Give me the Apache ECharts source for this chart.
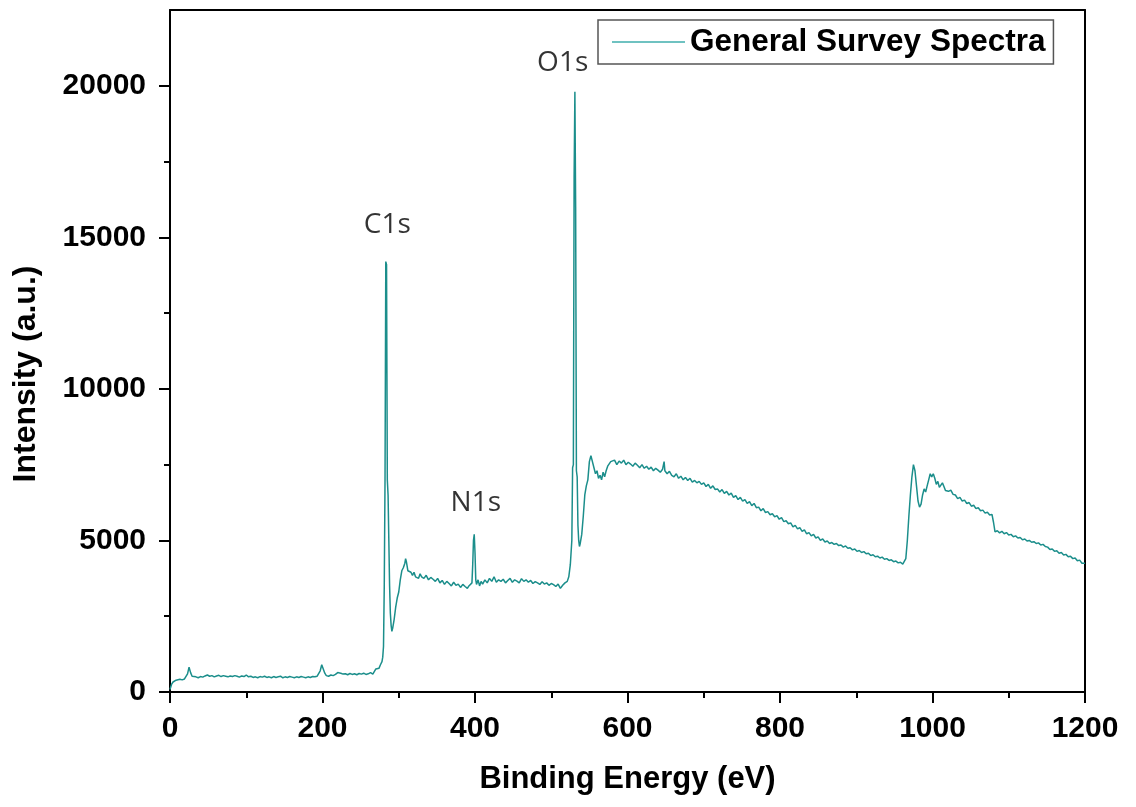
<!DOCTYPE html>
<html>
<head>
<meta charset="utf-8">
<script src="https://cdn.jsdelivr.net/npm/echarts@6/dist/echarts.min.js"></script>
<style>
html,body{margin:0;padding:0;background:#fff;}
#chart{width:1136px;height:807px;}
</style>
</head>
<body>
<div id="chart"></div>
<script>
// ---- data ----
const seriesName = 'General Survey Spectra';
const xAxisTitle = 'Binding Energy (eV)';
const yAxisTitle = 'Intensity (a.u.)';
const xTicks = [0, 200, 400, 600, 800, 1000, 1200];
const yTicks = [0, 5000, 10000, 15000, 20000];
const yMinorTicks = [2500, 7500, 12500, 17500];
const peakNames = ['C1s', 'N1s', 'O1s'];
const peakLabelAt = [[285, 15400], [401, 6250], [515, 20750]];
// [binding energy (eV), intensity (a.u.)]
const spectrum = [
[0,80],[2,250],[4,330],[6,360],[8,390],[10,400],[13,420],[16,400],[19,430],[21,470],[23,600],[25,820],[27,640],[29,520],[31,480],[34,500],[37,470],[40,510],[43,490],[46,530],[49,560],[52,520],[55,540],[58,500],[61,530],[64,550],[67,510],[70,540],[73,520],[76,500],[79,530],[82,510],[85,540],[88,520],[91,490],[94,530],[97,510],[100,560],[103,500],[106,520],[109,480],[112,500],[115,470],[118,510],[121,490],[124,520],[127,480],[130,500],[133,470],[136,510],[139,480],[142,500],[145,520],[148,470],[151,500],[154,480],[157,510],[160,490],[163,470],[166,500],[169,480],[172,510],[175,490],[178,470],[181,500],[184,480],[187,510],[190,500],[193,520],[195,560],[197,700],[199,900],[200,960],[201,850],[203,620],[205,540],[208,520],[211,560],[214,540],[217,580],[220,640],[222,680],[224,620],[227,590],[230,600],[233,570],[236,610],[239,580],[242,600],[245,570],[248,610],[251,590],[254,620],[257,580],[260,600],[263,640],[266,590],[268,620],[270,760],[272,720],[274,780],[276,900],[278,1000],[279,1150],[280,1500],[281,3500],[282,7000],[283,14200],[284,14100],[284.5,10500],[285,7000],[286,6500],[287,5000],[288,3500],[289,2600],[290,2200],[291,2000],[292,2100],[294,2400],[296,2800],[298,3100],[300,3300],[302,3700],[304,4000],[306,4100],[308,4250],[309,4400],[310,4300],[312,4000],[314,4050],[316,3950],[318,3850],[320,3950],[322,3800],[324,3850],[326,3750],[328,3900],[330,3800],[333,3750],[336,3850],[339,3700],[342,3780],[345,3720],[348,3650],[351,3750],[354,3600],[357,3680],[360,3550],[363,3650],[366,3580],[369,3500],[372,3620],[375,3520],[378,3560],[381,3450],[384,3550],[387,3480],[390,3420],[392,3500],[394,3450],[396,3600],[397,4200],[398,5000],[399,5200],[400,4600],[401,3700],[402,3550],[404,3700],[406,3500],[408,3650],[410,3560],[413,3700],[416,3600],[419,3750],[422,3650],[425,3800],[428,3620],[431,3700],[434,3650],[437,3720],[440,3600],[443,3680],[446,3750],[449,3620],[452,3700],[455,3660],[458,3600],[461,3740],[464,3650],[467,3700],[470,3620],[473,3680],[476,3580],[479,3640],[482,3600],[485,3550],[488,3640],[491,3560],[494,3600],[497,3520],[500,3580],[503,3540],[506,3480],[509,3560],[512,3420],[515,3520],[518,3600],[521,3650],[523,3800],[525,4200],[527,5000],[528,7400],[529,7500],[530,17000],[531,19800],[532,16000],[533,7300],[534,7100],[535,5500],[536,5000],[537,4800],[538,4900],[540,5200],[542,5800],[544,6500],[546,6800],[548,7000],[550,7600],[552,7800],[554,7750],[556,7400],[558,7200],[560,7300],[562,7050],[564,7150],[566,7000],[568,7250],[570,7100],[572,7300],[574,7450],[576,7400],[578,7600],[580,7550],[583,7650],[586,7500],[589,7620],[592,7550],[595,7650],[598,7500],[601,7580],[604,7520],[607,7450],[610,7550],[613,7480],[616,7400],[619,7500],[622,7380],[625,7450],[628,7350],[631,7420],[634,7300],[637,7380],[640,7320],[643,7250],[646,7350],[648,7600],[649,7300],[652,7200],[655,7280],[658,7150],[661,7100],[664,7200],[667,7050],[670,7120],[673,7000],[676,7080],[679,6980],[682,7050],[685,6920],[688,6980],[691,6900],[694,6950],[697,6850],[700,6900],[703,6780],[706,6850],[709,6720],[712,6800],[715,6680],[718,6700],[721,6600],[724,6680],[727,6550],[730,6620],[733,6500],[736,6560],[739,6420],[742,6480],[745,6350],[748,6420],[751,6300],[754,6350],[757,6220],[760,6280],[763,6150],[766,6220],[769,6080],[772,6100],[775,5980],[778,6050],[781,5920],[784,5950],[787,5850],[790,5880],[793,5780],[796,5820],[799,5700],[802,5750],[805,5620],[808,5650],[811,5550],[814,5580],[817,5450],[820,5500],[823,5380],[826,5420],[829,5300],[832,5350],[835,5220],[838,5260],[841,5150],[844,5200],[847,5080],[850,5120],[853,5000],[856,5050],[859,4950],[862,4980],[865,4900],[868,4930],[871,4870],[874,4900],[877,4830],[880,4850],[883,4780],[886,4820],[889,4740],[892,4760],[895,4690],[898,4720],[901,4640],[904,4670],[907,4600],[910,4630],[913,4560],[916,4580],[919,4500],[922,4530],[925,4460],[928,4480],[931,4420],[934,4450],[937,4380],[940,4400],[943,4340],[946,4360],[949,4300],[952,4320],[955,4260],[958,4280],[961,4220],[963,4250],[965,4400],[967,5000],[969,5800],[971,6500],[973,7100],[975,7500],[977,7300],[979,6800],[981,6300],[983,6100],[985,6200],[987,6500],[989,6700],[991,6600],[993,6800],[995,7000],[997,7200],[999,7100],[1001,7200],[1003,7050],[1005,6850],[1007,6950],[1009,6750],[1011,6800],[1013,6900],[1015,6780],[1017,6650],[1019,6700],[1021,6620],[1024,6660],[1027,6520],[1030,6500],[1033,6380],[1036,6420],[1039,6300],[1042,6330],[1045,6220],[1048,6250],[1051,6130],[1054,6160],[1057,6050],[1060,6080],[1063,5980],[1066,6000],[1069,5900],[1072,5930],[1075,5840],[1078,5860],[1080,5600],[1082,5280],[1085,5320],[1088,5250],[1091,5300],[1094,5220],[1097,5260],[1100,5180],[1103,5200],[1106,5120],[1109,5150],[1112,5080],[1115,5100],[1118,5020],[1121,5050],[1124,4980],[1127,5000],[1130,4940],[1133,4960],[1136,4900],[1139,4920],[1142,4850],[1145,4870],[1148,4800],[1151,4780],[1154,4700],[1157,4720],[1160,4640],[1163,4660],[1166,4580],[1169,4600],[1172,4520],[1175,4540],[1178,4460],[1181,4480],[1184,4400],[1187,4420],[1190,4330],[1193,4350],[1196,4250],[1198,4200],[1200,4250]
];

// ---- chart ----
const X_MIN = 0, X_MAX = 1200, Y_MIN = 0, Y_MAX = 22500;
const labelFont = { fontFamily: '"Liberation Sans", Arial, sans-serif', fontWeight: 'bold', fontSize: 30, color: '#000' };
const axisLineStyle = { color: '#000', width: 2 };
const lineColor = '#1b8e8b';
const plain = v => String(v);

const chart = echarts.init(document.getElementById('chart'), null, { renderer: 'canvas' });
chart.setOption({
  animation: false,
  backgroundColor: '#fff',
  grid: { left: 170, right: 51, top: 10, bottom: 115, containLabel: false },
  legend: {
    data: [seriesName],
    left: 598, top: 20,
    padding: [6, 8, 6, 14],
    borderColor: '#555', borderWidth: 1.5,
    icon: 'rect', itemWidth: 73, itemHeight: 2, itemGap: 10,
    itemStyle: { color: '#6fc2c1' },
    textStyle: Object.assign({}, labelFont, { fontSize: 31.5 })
  },
  xAxis: [
    {
      type: 'value', min: X_MIN, max: X_MAX, interval: 200,
      position: 'bottom',
      name: xAxisTitle, nameLocation: 'middle', nameGap: 72,
      nameTextStyle: Object.assign({}, labelFont, { fontSize: 31 }),
      axisLine: { show: true, onZero: false, lineStyle: axisLineStyle },
      axisTick: { show: true, inside: false, length: 11, lineStyle: axisLineStyle, customValues: xTicks },
      minorTick: { show: true, splitNumber: 2, length: 6, lineStyle: axisLineStyle },
      axisLabel: Object.assign({ margin: 22, customValues: xTicks, formatter: plain }, labelFont),
      splitLine: { show: false }
    },
    {
      type: 'value', min: X_MIN, max: X_MAX, position: 'top',
      axisLine: { show: true, onZero: false, lineStyle: axisLineStyle },
      axisTick: { show: false }, axisLabel: { show: false }, splitLine: { show: false }
    }
  ],
  yAxis: [
    {
      type: 'value', min: Y_MIN, max: Y_MAX,
      position: 'left',
      name: yAxisTitle, nameLocation: 'middle', nameGap: 128,
      nameTextStyle: Object.assign({}, labelFont, { fontSize: 32, padding: [0, 46, 0, 0] }),
      axisLine: { show: true, onZero: false, lineStyle: axisLineStyle },
      axisTick: { show: true, inside: false, length: 11, lineStyle: axisLineStyle, customValues: yTicks },
      axisLabel: Object.assign({ margin: 24, customValues: yTicks, formatter: plain }, labelFont),
      splitLine: { show: false }
    },
    {
      type: 'value', min: Y_MIN, max: Y_MAX, position: 'left', offset: 0,
      axisLine: { show: false },
      axisTick: { show: true, inside: false, length: 6, lineStyle: axisLineStyle, customValues: yMinorTicks },
      axisLabel: { show: false }, splitLine: { show: false }
    },
    {
      type: 'value', min: Y_MIN, max: Y_MAX, position: 'right',
      axisLine: { show: true, onZero: false, lineStyle: axisLineStyle },
      axisTick: { show: false }, axisLabel: { show: false }, splitLine: { show: false }
    }
  ],
  series: [
    {
      name: seriesName, type: 'line',
      xAxisIndex: 0, yAxisIndex: 0,
      data: spectrum,
      showSymbol: false, symbol: 'none',
      lineStyle: { color: lineColor, width: 1.5 },
      itemStyle: { color: lineColor },
      clip: true, z: 3
    },
    {
      name: 'peaks', type: 'scatter',
      xAxisIndex: 0, yAxisIndex: 0,
      data: peakNames.map((n, i) => ({ name: n, value: peakLabelAt[i] })),
      symbolSize: 0,
      silent: true,
      label: {
        show: true, position: 'inside',
        formatter: p => p.name,
        fontFamily: '"Open Sans", "Noto Sans", sans-serif',
        fontSize: 28, color: '#000'
      }
    }
  ]
});
</script>
</body>
</html>
